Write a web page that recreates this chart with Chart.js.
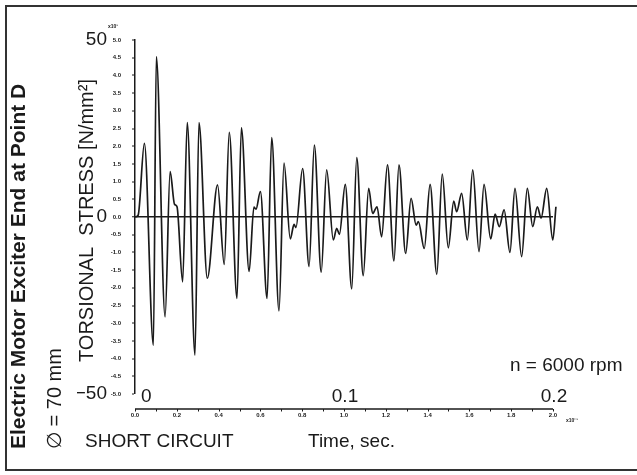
<!DOCTYPE html>
<html>
<head>
<meta charset="utf-8">
<script src="https://cdn.jsdelivr.net/npm/chart.js@4.4.0/dist/chart.umd.min.js"></script>
<style>
  html, body { margin: 0; padding: 0; background: #fff; }
  canvas { display: block; }
</style>
</head>
<body>
<canvas id="myChart" width="637" height="475"></canvas>
<script>
// time after short circuit (s) and torsional stress (N/mm2)
const times = [
    0, 0.0015, 0.0045, 0.0088, 0.0102, 0.0144, 0.0168, 0.0189, 0.0201, 0.0228,
    0.0250, 0.0287, 0.0306, 0.0346, 0.0395, 0.0427, 0.0451, 0.0488, 0.0509, 0.0546,
    0.0569, 0.0579, 0.0600, 0.0632, 0.0654, 0.0689, 0.0713, 0.0743, 0.0761, 0.0770,
    0.0802, 0.0833, 0.0858, 0.0891, 0.0917, 0.0949, 0.0965, 0.0978, 0.1006, 0.1037,
    0.1061, 0.1092, 0.1118, 0.1137, 0.1158, 0.1180, 0.1208, 0.1239, 0.1263, 0.1295,
    0.1321, 0.1345, 0.1356, 0.1384, 0.1412, 0.1444, 0.1470, 0.1499, 0.1525, 0.1539,
    0.1563, 0.1590, 0.1616, 0.1646, 0.1670, 0.1702, 0.1723, 0.1743, 0.1766, 0.1794,
    0.1818, 0.1850, 0.1877, 0.1903, 0.1925, 0.1943, 0.1970, 0.1999, 0.2014
];
const stress = [
    0, 0.5, 20.8, -36.2, 45.3, -28.2, 12.8, 3.6, 2.9, -18.3,
    26.7, -39.0, 26.7, -17.3, 9.1, -13.4, 23.9, -23.0, 25.2, -15.4,
    2.8, 2.2, 7.2, -23.0, 22.4, -26.5, 15.2, -6.2, -2.1, -3.0,
    13.7, -14.0, 20.3, -15.6, 13.3, -6.5, -3.2, -4.9, 9.2, -20.3,
    16.8, -16.6, 8.1, 1.0, 2.9, -5.6, 14.7, -12.4, 14.7, -10.3,
    5.3, -2.3, -1.3, -8.9, 9.2, -16.2, 12.1, -8.7, 4.5, 1.5,
    6.7, -6.5, 13.3, -9.8, 9.2, -6.2, 0.8, -2.7, 2.0, -10.0,
    8.1, -11.2, 8.1, -2.7, 2.9, -0.3, 8.1, -6.5, 2.9
];
const bigYLabels = [-50, 0, 50];
const bigXLabels = [0, 0.1, 0.2];

const FONT = '"Liberation Sans", Arial, Helvetica, sans-serif';
const INK = '#1a1a1a';

function vtext(ctx, str, x, yBottom, font) {
    ctx.save();
    ctx.translate(x, yBottom);
    ctx.rotate(-Math.PI / 2);
    ctx.font = font;
    ctx.textAlign = 'left';
    ctx.textBaseline = 'middle';
    ctx.fillText(str, 0, 0);
    ctx.restore();
}

const sheet = {
    id: 'sheet',
    beforeDraw(chart) {
        const ctx = chart.ctx;
        ctx.save();
        ctx.fillStyle = '#fff';
        ctx.fillRect(0, 0, chart.width, chart.height);
        ctx.strokeStyle = '#333';
        ctx.lineWidth = 2;
        ctx.beginPath();
        ctx.moveTo(chart.width, 6);
        ctx.lineTo(6, 6);
        ctx.lineTo(6, 470);
        ctx.lineTo(chart.width, 470);
        ctx.stroke();
        ctx.restore();
    },
    afterDraw(chart) {
        const ctx = chart.ctx;
        const x = chart.scales.x;
        const area = chart.chartArea;
        const axisY = area.bottom + 15;
        ctx.save();
        // time axis, drawn a little below the plot
        ctx.strokeStyle = INK;
        ctx.lineWidth = 1.5;
        ctx.beginPath();
        ctx.moveTo(x.getPixelForValue(0), axisY);
        ctx.lineTo(x.getPixelForValue(0.2), axisY);
        ctx.stroke();
        ctx.lineWidth = 1;
        x.ticks.forEach(t => {
            const px = Math.round(x.getPixelForValue(t.value)) + 0.5;
            ctx.beginPath();
            ctx.moveTo(px, axisY);
            ctx.lineTo(px, axisY + 2.5);
            ctx.stroke();
        });

        ctx.fillStyle = INK;
        ctx.font = '19px ' + FONT;
        ctx.textBaseline = 'middle';
        bigXLabels.forEach(v => {
            if (v === 0) {
                ctx.textAlign = 'left';
                ctx.fillText('0', x.getPixelForValue(0) + 6, 397);
            } else {
                ctx.textAlign = 'center';
                ctx.fillText(String(v), x.getPixelForValue(v) + 1, 397);
            }
        });

        ctx.textAlign = 'left';
        ctx.fillText('n = 6000 rpm', 510, 366);
        ctx.fillText('SHORT CIRCUIT', 85, 442);
        ctx.fillText('Time, sec.', 308, 442);

        ctx.font = 'bold 5px ' + FONT;
        ctx.fillText('x10\u00b9', 108, 27);
        ctx.fillText('x10\u207b\u00b9', 566, 421);

        vtext(ctx, 'Electric Motor Exciter End at Point D', 19, 449, 'bold 21px ' + FONT);
        vtext(ctx, '\u2205 = 70 mm', 55, 449, '20px ' + FONT);
        vtext(ctx, 'TORSIONAL  STRESS [N/mm\u00b2]', 87, 362, '20px ' + FONT);
        ctx.restore();
    }
};

const ctx = document.getElementById('myChart').getContext('2d');
const myChart = new Chart(ctx, {
    type: 'line',
    data: {
        datasets: [{
            label: 'Torsional stress',
            data: times.map((t, i) => ({ x: t, y: stress[i] })),
            borderColor: INK,
            borderWidth: 1.7,
            pointRadius: 0,
            cubicInterpolationMode: 'monotone',
            clip: 10
        }]
    },
    options: {
        responsive: false,
        animation: false,
        devicePixelRatio: 1,
        layout: { padding: { left: 77, top: 40, right: 84, bottom: 41 } },
        plugins: {
            legend: { display: false },
            tooltip: { enabled: false }
        },
        scales: {
            x: {
                type: 'linear',
                position: 'bottom',
                min: 0,
                max: 0.2,
                grid: { display: false, drawTicks: false },
                border: { display: false },
                ticks: {
                    stepSize: 0.01,
                    autoSkip: false,
                    maxRotation: 0,
                    padding: 18,
                    color: INK,
                    font: { family: FONT, size: 6, weight: 'bold' },
                    callback: (v, i) => i % 2 === 0 ? (v * 10).toFixed(1) : ''
                },
                afterFit: s => { s.height = 40; }
            },
            yBig: {
                type: 'linear',
                position: 'left',
                weight: 1,
                min: -50,
                max: 50,
                grid: { display: false, drawTicks: false },
                border: { display: false },
                afterBuildTicks: s => { s.ticks = bigYLabels.map(v => ({ value: v })); },
                ticks: {
                    padding: 0,
                    color: INK,
                    font: { family: FONT, size: 19 },
                    callback: v => String(v).replace('-', '\u2212')
                },
                afterFit: s => { s.width = 30; }
            },
            y: {
                type: 'linear',
                position: 'left',
                weight: 0,
                min: -50,
                max: 50,
                border: { display: true, color: INK, width: 1.5 },
                grid: {
                    drawOnChartArea: true,
                    color: c => c.tick && c.tick.value === 0 ? INK : 'rgba(0,0,0,0)',
                    lineWidth: c => c.tick && c.tick.value === 0 ? 1.5 : 0,
                    drawTicks: true,
                    tickLength: 3,
                    tickColor: INK,
                    tickWidth: 1
                },
                ticks: {
                    stepSize: 5,
                    padding: 11,
                    color: INK,
                    font: { family: FONT, size: 6, weight: 'bold' },
                    callback: v => (v / 10).toFixed(1)
                },
                afterFit: s => { s.width = 28; }
            }
        }
    },
    plugins: [sheet]
});
</script>
</body>
</html>
